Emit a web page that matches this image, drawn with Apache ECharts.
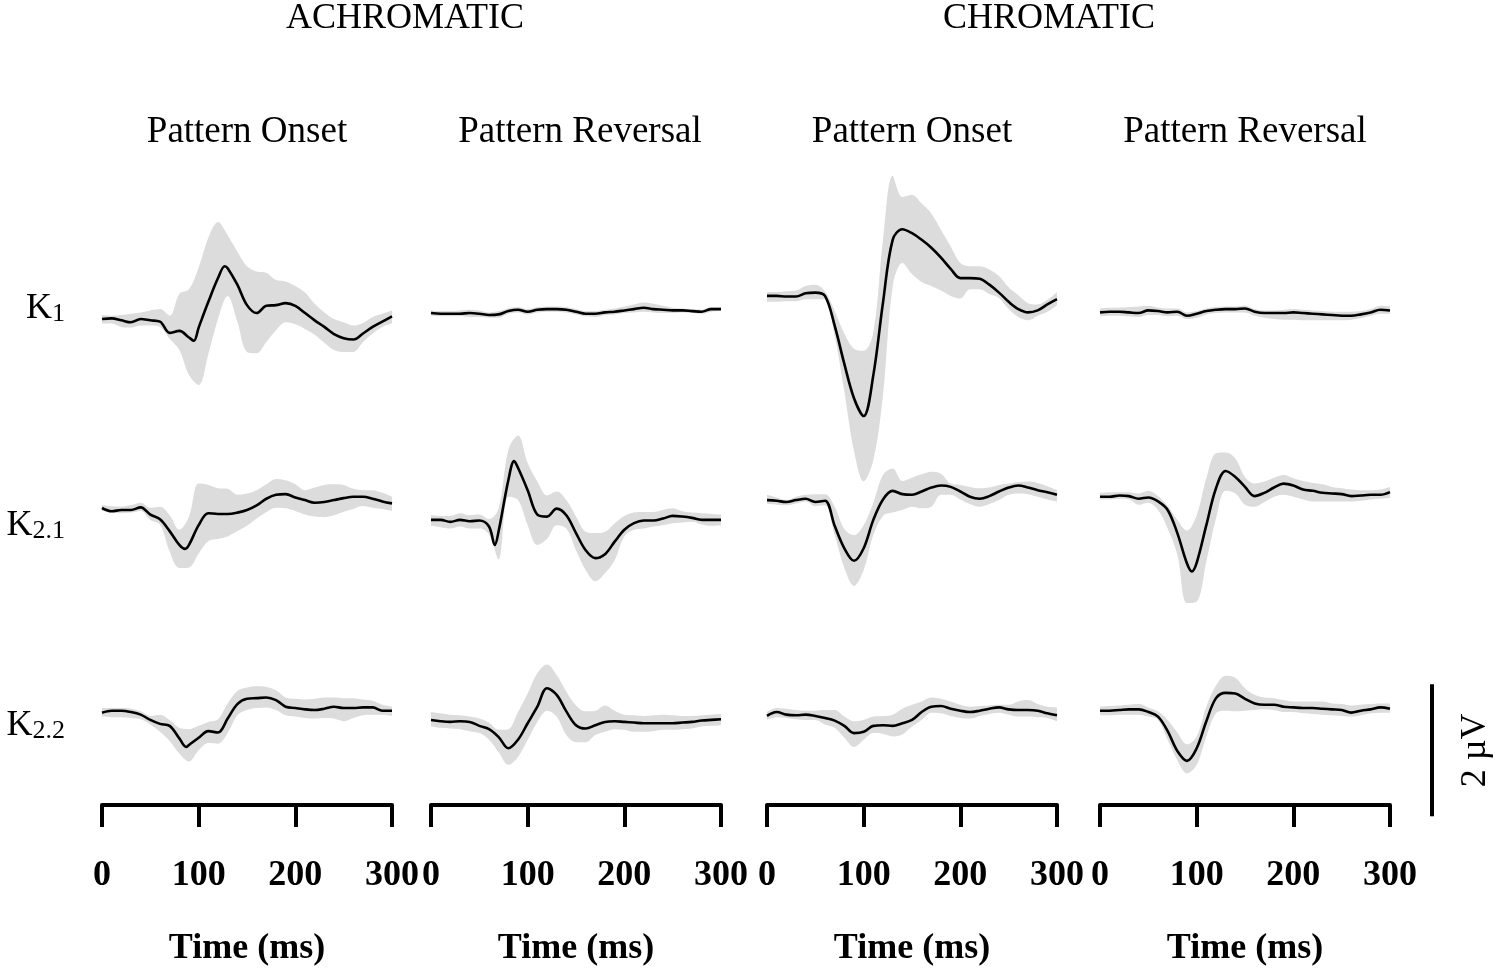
<!DOCTYPE html>
<html>
<head>
<meta charset="utf-8">
<script src="https://cdn.jsdelivr.net/npm/echarts@6/dist/echarts.min.js"></script>
<style>
  html, body { margin: 0; padding: 0; background: #fff; }
  #main { width: 1500px; height: 972px; }
</style>
</head>
<body>
<div id="main"></div>
<script>
// time samples (ms), shared by every panel
const times = [0, 10, 20, 30, 40, 50, 60, 70, 80, 90, 100, 110, 120, 130, 140, 150,
  160, 170, 180, 190, 200, 210, 220, 230, 240, 250, 260, 270, 280, 290, 300];
const timeTicks = [0, 100, 200, 300];

const groupNames = ['ACHROMATIC', 'CHROMATIC'];
const columnNames = ['Pattern Onset', 'Pattern Reversal', 'Pattern Onset', 'Pattern Reversal'];
const rowNames = [['K', '1'], ['K', '2.1'], ['K', '2.2']];

// ---- K1 (µV) ----
const achOnK1Mean = [0, 0.01, -0.02, -0.05, 0, -0.02, -0.04, -0.21, -0.18, -0.28, -0.13, 0.26, 0.62, 0.77, 0.52, 0.21, 0.09, 0.2, 0.21, 0.24, 0.2, 0.09, -0.02, -0.12, -0.23, -0.29, -0.31, -0.22, -0.12, -0.04, 0.04];
const achOnK1Hi = [0.06, 0.05, 0.06, 0.08, 0.1, 0.13, 0.15, 0.05, 0.38, 0.45, 0.78, 1.23, 1.47, 1.27, 1.02, 0.8, 0.72, 0.7, 0.59, 0.57, 0.5, 0.4, 0.23, 0.1, 0.0, -0.05, -0.1, -0.06, 0.03, 0.08, 0.13];
const achOnK1Lo = [-0.07, -0.07, -0.12, -0.13, -0.1, -0.1, -0.12, -0.3, -0.47, -0.85, -1.0, -0.53, 0.0, 0.35, -0.04, -0.5, -0.52, -0.35, -0.17, -0.05, -0.08, -0.15, -0.24, -0.36, -0.47, -0.5, -0.5, -0.35, -0.22, -0.12, -0.07];
const achOnK1Peaks = [[95, -0.33], [127, 0.8]];

const achRevK1Mean = [0.09, 0.08, 0.08, 0.08, 0.09, 0.08, 0.06, 0.07, 0.12, 0.14, 0.11, 0.14, 0.15, 0.15, 0.14, 0.11, 0.08, 0.08, 0.1, 0.11, 0.13, 0.15, 0.17, 0.15, 0.14, 0.13, 0.13, 0.12, 0.11, 0.15, 0.15];
const achRevK1Hi = [0.13, 0.12, 0.12, 0.13, 0.14, 0.13, 0.1, 0.12, 0.16, 0.18, 0.15, 0.18, 0.19, 0.19, 0.18, 0.15, 0.12, 0.12, 0.14, 0.16, 0.19, 0.22, 0.25, 0.23, 0.2, 0.17, 0.16, 0.15, 0.14, 0.18, 0.18];
const achRevK1Lo = [0.05, 0.04, 0.04, 0.04, 0.03, 0.03, 0.02, 0.02, 0.08, 0.1, 0.07, 0.1, 0.11, 0.11, 0.1, 0.07, 0.04, 0.03, 0.06, 0.07, 0.09, 0.1, 0.11, 0.1, 0.09, 0.09, 0.1, 0.09, 0.08, 0.11, 0.12];

const chrOnK1Mean = [0.35, 0.35, 0.34, 0.34, 0.39, 0.4, 0.35, -0.1, -0.68, -1.2, -1.47, -0.85, 0.25, 1.2, 1.36, 1.3, 1.2, 1.08, 0.93, 0.76, 0.62, 0.62, 0.61, 0.52, 0.4, 0.26, 0.15, 0.1, 0.13, 0.22, 0.3];
const chrOnK1Hi = [0.41, 0.41, 0.42, 0.43, 0.5, 0.52, 0.42, 0.12, -0.22, -0.45, -0.48, -0.2, 1.2, 2.17, 1.85, 1.88, 1.75, 1.6, 1.35, 1.1, 0.85, 0.8, 0.8, 0.75, 0.65, 0.48, 0.36, 0.24, 0.22, 0.29, 0.41];
const chrOnK1Lo = [0.26, 0.26, 0.27, 0.27, 0.3, 0.3, 0.3, -0.25, -1.1, -2.0, -2.46, -2.14, -1.15, 0.49, 0.85, 0.68, 0.56, 0.5, 0.43, 0.35, 0.31, 0.45, 0.45, 0.38, 0.32, 0.15, 0.03, -0.02, 0.05, 0.11, 0.21];

const chrRevK1Mean = [0.1, 0.11, 0.11, 0.1, 0.09, 0.13, 0.12, 0.1, 0.11, 0.05, 0.08, 0.12, 0.14, 0.15, 0.15, 0.16, 0.11, 0.09, 0.09, 0.09, 0.1, 0.09, 0.08, 0.07, 0.06, 0.05, 0.05, 0.07, 0.1, 0.14, 0.13];
const chrRevK1Hi = [0.16, 0.17, 0.17, 0.18, 0.19, 0.2, 0.17, 0.16, 0.16, 0.1, 0.12, 0.16, 0.18, 0.19, 0.19, 0.2, 0.15, 0.13, 0.13, 0.14, 0.15, 0.14, 0.13, 0.12, 0.11, 0.11, 0.11, 0.12, 0.15, 0.2, 0.19];
const chrRevK1Lo = [0.04, 0.05, 0.05, 0.04, 0.03, 0.06, 0.06, 0.04, 0.05, 0.0, 0.02, 0.07, 0.09, 0.1, 0.1, 0.1, 0.05, 0.02, 0.0, -0.01, -0.01, -0.02, -0.02, -0.02, -0.02, -0.02, -0.01, 0.01, 0.05, 0.08, 0.08];

// ---- K2.1 (µV) ----
const achOnK21Mean = [0, -0.05, -0.03, -0.03, 0.01, -0.1, -0.17, -0.35, -0.56, -0.56, -0.26, -0.08, -0.09, -0.09, -0.07, -0.03, 0.04, 0.14, 0.2, 0.21, 0.16, 0.12, 0.08, 0.09, 0.12, 0.15, 0.17, 0.17, 0.14, 0.1, 0.07];
const achOnK21Hi = [0.045, 0.025, 0.02, 0.045, 0.08, 0.005, 0.02, -0.11, -0.33, -0.13, 0.37, 0.35, 0.3, 0.29, 0.2, 0.22, 0.27, 0.36, 0.44, 0.42, 0.36, 0.27, 0.31, 0.35, 0.36, 0.35, 0.29, 0.27, 0.27, 0.23, 0.17];
const achOnK21Lo = [-0.045, -0.065, -0.08, -0.07, -0.045, -0.18, -0.25, -0.66, -0.91, -0.9, -0.69, -0.5, -0.47, -0.43, -0.35, -0.27, -0.16, -0.065, 0.005, -0.005, -0.045, -0.1, -0.13, -0.14, -0.11, -0.055, -0.015, 0.03, 0.005, -0.015, -0.045];
const achOnK21Peaks = [[86, -0.62]];

const achRevK21Mean = [-0.18, -0.18, -0.21, -0.18, -0.2, -0.19, -0.28, -0.35, 0.42, 0.61, 0.27, -0.1, -0.13, -0.01, -0.11, -0.38, -0.64, -0.76, -0.7, -0.51, -0.33, -0.23, -0.19, -0.19, -0.16, -0.12, -0.13, -0.15, -0.18, -0.18, -0.18];
const achRevK21Hi = [-0.11, -0.12, -0.12, -0.08, -0.11, -0.1, -0.17, -0.005, 0.88, 1.1, 0.68, 0.4, 0.19, 0.25, 0.12, -0.13, -0.36, -0.38, -0.36, -0.23, -0.12, -0.07, -0.06, -0.06, -0.03, -0.005, -0.05, -0.07, -0.08, -0.09, -0.1];
const achRevK21Lo = [-0.27, -0.29, -0.31, -0.28, -0.31, -0.31, -0.4, -0.78, 0.17, 0.12, -0.26, -0.56, -0.47, -0.26, -0.31, -0.64, -0.94, -1.11, -0.99, -0.79, -0.43, -0.33, -0.31, -0.28, -0.26, -0.23, -0.22, -0.21, -0.25, -0.27, -0.26];
const achRevK21Peaks = [[66, -0.56], [86, 0.71]];

const chrOnK21Mean = [0.12, 0.11, 0.09, 0.12, 0.14, 0.09, 0.11, -0.27, -0.61, -0.8, -0.61, -0.18, 0.13, 0.26, 0.21, 0.2, 0.25, 0.31, 0.34, 0.32, 0.25, 0.17, 0.14, 0.18, 0.25, 0.31, 0.34, 0.31, 0.27, 0.24, 0.2];
const chrOnK21Hi = [0.2, 0.16, 0.12, 0.17, 0.2, 0.21, 0.21, 0.02, -0.32, -0.41, -0.26, 0.08, 0.5, 0.6, 0.41, 0.46, 0.51, 0.55, 0.52, 0.37, 0.35, 0.32, 0.3, 0.31, 0.35, 0.37, 0.39, 0.4, 0.38, 0.33, 0.27];
const chrOnK21Lo = [0.06, 0.05, 0.04, 0.07, 0.1, 0.03, 0.04, -0.41, -0.91, -1.18, -0.94, -0.41, -0.12, -0.07, -0.03, 0.02, -0.005, 0.02, 0.2, 0.2, 0.13, 0.06, 0.02, 0.06, 0.12, 0.2, 0.22, 0.21, 0.17, 0.13, 0.1];

const chrRevK21Mean = [0.17, 0.17, 0.19, 0.18, 0.14, 0.16, 0.1, -0.03, -0.38, -0.84, -0.83, -0.26, 0.3, 0.56, 0.47, 0.32, 0.18, 0.23, 0.31, 0.37, 0.34, 0.28, 0.26, 0.23, 0.22, 0.21, 0.18, 0.19, 0.2, 0.2, 0.24];
const chrRevK21Hi = [0.23, 0.24, 0.24, 0.24, 0.22, 0.26, 0.18, 0.03, -0.18, -0.34, -0.11, 0.45, 0.83, 0.84, 0.75, 0.47, 0.37, 0.4, 0.46, 0.5, 0.45, 0.41, 0.38, 0.36, 0.32, 0.3, 0.28, 0.27, 0.27, 0.28, 0.32];
const chrRevK21Lo = [0.13, 0.13, 0.14, 0.13, 0.05, 0.08, -0.03, -0.31, -0.71, -1.44, -1.42, -0.81, -0.16, 0.26, 0.22, 0.05, 0.02, 0.09, 0.17, 0.2, 0.17, 0.13, 0.1, 0.1, 0.1, 0.1, 0.1, 0.11, 0.13, 0.14, 0.15];
const chrRevK21Peaks = [[95, -0.96]];

// ---- K2.2 (µV) ----
const achOnK22Mean = [-0.01, 0.02, 0.02, 0, -0.04, -0.12, -0.18, -0.21, -0.4, -0.5, -0.39, -0.29, -0.31, -0.1, 0.12, 0.2, 0.21, 0.22, 0.18, 0.08, 0.06, 0.04, 0.03, 0.05, 0.08, 0.06, 0.06, 0.07, 0.07, 0.02, 0.02];
const achOnK22Hi = [0.06, 0.06, 0.06, 0.05, 0.01, -0.06, -0.04, -0.12, -0.24, -0.26, -0.21, -0.15, -0.11, 0.13, 0.32, 0.37, 0.39, 0.38, 0.33, 0.22, 0.2, 0.19, 0.2, 0.22, 0.22, 0.21, 0.21, 0.19, 0.17, 0.11, 0.08];
const achOnK22Lo = [-0.07, -0.08, -0.08, -0.09, -0.11, -0.19, -0.3, -0.44, -0.63, -0.75, -0.58, -0.47, -0.48, -0.32, -0.05, 0.03, 0.06, 0.07, 0.03, -0.05, -0.07, -0.09, -0.1, -0.09, -0.1, -0.14, -0.09, -0.05, -0.04, -0.04, -0.06];
const achOnK22Peaks = [[87, -0.53]];

const achRevK22Mean = [-0.12, -0.14, -0.15, -0.14, -0.15, -0.21, -0.26, -0.38, -0.55, -0.42, -0.17, 0.08, 0.36, 0.26, 0.01, -0.2, -0.25, -0.2, -0.15, -0.14, -0.15, -0.16, -0.17, -0.17, -0.17, -0.17, -0.16, -0.15, -0.13, -0.12, -0.11];
const achRevK22Hi = [0, -0.02, -0.04, -0.05, -0.07, -0.1, -0.16, -0.27, -0.26, 0, 0.28, 0.59, 0.72, 0.56, 0.31, 0.1, 0.01, 0.02, 0.1, 0.02, -0.04, -0.05, -0.06, -0.05, -0.04, -0.05, -0.06, -0.06, -0.05, -0.04, -0.03];
const achRevK22Lo = [-0.22, -0.24, -0.25, -0.26, -0.29, -0.32, -0.42, -0.61, -0.8, -0.68, -0.42, -0.15, 0.02, -0.07, -0.35, -0.46, -0.46, -0.35, -0.3, -0.26, -0.27, -0.3, -0.3, -0.29, -0.27, -0.27, -0.26, -0.25, -0.22, -0.21, -0.2];

const chrOnK22Mean = [-0.06, 0, -0.04, -0.05, -0.04, -0.06, -0.09, -0.13, -0.21, -0.32, -0.3, -0.21, -0.2, -0.21, -0.17, -0.12, 0, 0.08, 0.09, 0.05, 0.02, 0, 0.02, 0.05, 0.07, 0.04, 0.03, 0.03, 0.02, -0.02, -0.05];
const chrOnK22Hi = [0, 0.06, 0.05, 0.03, 0.02, 0.02, 0.03, 0.03, -0.07, -0.14, -0.12, -0.07, -0.06, -0.04, 0.05, 0.11, 0.16, 0.22, 0.2, 0.16, 0.11, 0.08, 0.09, 0.1, 0.11, 0.11, 0.16, 0.18, 0.12, 0.08, 0.07];
const chrOnK22Lo = [-0.12, -0.08, -0.09, -0.11, -0.12, -0.12, -0.19, -0.24, -0.39, -0.53, -0.42, -0.32, -0.33, -0.37, -0.34, -0.22, -0.12, -0.01, -0.02, -0.06, -0.09, -0.1, -0.06, -0.03, -0.01, -0.04, -0.07, -0.07, -0.08, -0.09, -0.14];

const chrRevK22Mean = [0.02, 0.02, 0.03, 0.04, 0.04, 0, -0.07, -0.29, -0.59, -0.74, -0.55, -0.14, 0.21, 0.29, 0.28, 0.2, 0.13, 0.11, 0.11, 0.08, 0.07, 0.06, 0.06, 0.05, 0.04, 0.03, -0.01, 0.02, 0.04, 0.07, 0.05];
const chrRevK22Hi = [0.08, 0.09, 0.1, 0.11, 0.12, 0.07, 0.01, -0.12, -0.31, -0.49, -0.37, 0.08, 0.4, 0.55, 0.52, 0.36, 0.26, 0.22, 0.21, 0.18, 0.16, 0.16, 0.16, 0.16, 0.13, 0.12, 0.1, 0.11, 0.12, 0.13, 0.13];
const chrRevK22Lo = [-0.05, -0.05, -0.04, -0.04, -0.04, -0.07, -0.12, -0.42, -0.73, -0.93, -0.8, -0.37, -0.02, 0.02, 0.01, 0.02, 0.03, 0.04, 0.03, 0, 0, -0.02, -0.03, -0.04, -0.05, -0.06, -0.07, -0.05, -0.02, -0.01, -0.01];

// scale bar
const scaleBarUv = 2;
const scaleBarTopUv = 0.42;   // on the K2.2 row

// layout
const colLeft = [102, 431, 767, 1100];
const colWidth = 290;
const rowZero = [319, 508, 712];
const pxPerUv = 66;
const yHalf = 3;
const axisY = 805;
const serif = 'Liberation Serif, Times New Roman, serif';
const bandColor = '#dcdcdc';

const panels = [
  { row: 0, col: 0, mean: achOnK1Mean, hi: achOnK1Hi, lo: achOnK1Lo, peaks: achOnK1Peaks },
  { row: 0, col: 1, mean: achRevK1Mean, hi: achRevK1Hi, lo: achRevK1Lo },
  { row: 0, col: 2, mean: chrOnK1Mean, hi: chrOnK1Hi, lo: chrOnK1Lo },
  { row: 0, col: 3, mean: chrRevK1Mean, hi: chrRevK1Hi, lo: chrRevK1Lo },
  { row: 1, col: 0, mean: achOnK21Mean, hi: achOnK21Hi, lo: achOnK21Lo, peaks: achOnK21Peaks },
  { row: 1, col: 1, mean: achRevK21Mean, hi: achRevK21Hi, lo: achRevK21Lo, peaks: achRevK21Peaks },
  { row: 1, col: 2, mean: chrOnK21Mean, hi: chrOnK21Hi, lo: chrOnK21Lo },
  { row: 1, col: 3, mean: chrRevK21Mean, hi: chrRevK21Hi, lo: chrRevK21Lo, peaks: chrRevK21Peaks },
  { row: 2, col: 0, mean: achOnK22Mean, hi: achOnK22Hi, lo: achOnK22Lo, peaks: achOnK22Peaks },
  { row: 2, col: 1, mean: achRevK22Mean, hi: achRevK22Hi, lo: achRevK22Lo },
  { row: 2, col: 2, mean: chrOnK22Mean, hi: chrOnK22Hi, lo: chrOnK22Lo },
  { row: 2, col: 3, mean: chrRevK22Mean, hi: chrRevK22Hi, lo: chrRevK22Lo }
];

const grids = [], xAxes = [], yAxes = [], series = [];

panels.forEach(function (p, i) {
  grids.push({ left: colLeft[p.col], width: colWidth, top: rowZero[p.row] - yHalf * pxPerUv, height: 2 * yHalf * pxPerUv });
  yAxes.push({ gridIndex: i, type: 'value', min: -yHalf, max: yHalf, show: false });
  const bandX = xAxes.length;
  xAxes.push({ gridIndex: i, type: 'category', data: times, boundaryGap: false, show: false });
  const meanX = xAxes.length;
  xAxes.push({ gridIndex: i, type: 'value', min: times[0], max: times[times.length - 1], show: false });

  const common = { type: 'line', yAxisIndex: i, symbol: 'none', smooth: 0.35, silent: true, clip: false, animation: false };
  // band = lower edge + (upper - lower) stacked on it
  series.push(Object.assign({}, common, {
    xAxisIndex: bandX, stack: 'band' + i, stackStrategy: 'all', z: 1,
    lineStyle: { opacity: 0 },
    data: p.lo.slice()
  }));
  series.push(Object.assign({}, common, {
    xAxisIndex: bandX, stack: 'band' + i, stackStrategy: 'all', z: 1,
    lineStyle: { opacity: 0 },
    areaStyle: { color: bandColor, opacity: 1 },
    data: p.hi.map(function (v, k) { return +(v - p.lo[k]).toFixed(3); })
  }));
  // mean trace: the 10 ms samples plus the extremes read between them
  const pts = times.map(function (t, k) { return [t, p.mean[k]]; }).concat(p.peaks || []);
  pts.sort(function (a, b) { return a[0] - b[0]; });
  series.push(Object.assign({}, common, {
    xAxisIndex: meanX, z: 3,
    lineStyle: { color: '#000', width: 2.6 },
    data: pts
  }));
});

// time axes under each column
colLeft.forEach(function (left) {
  const gi = grids.length;
  grids.push({ left: left, width: colWidth, top: axisY - 100, height: 100 });
  xAxes.push({
    gridIndex: gi, type: 'value', min: timeTicks[0], max: timeTicks[timeTicks.length - 1], interval: 100,
    position: 'bottom',
    axisLine: { show: true, lineStyle: { color: '#000', width: 4 } },
    axisTick: { show: true, length: 22, lineStyle: { color: '#000', width: 4 } },
    axisLabel: { color: '#000', fontFamily: serif, fontWeight: 'bold', fontSize: 36, margin: 53 },
    splitLine: { show: false },
    name: 'Time (ms)', nameLocation: 'middle', nameGap: 126,
    nameTextStyle: { color: '#000', fontFamily: serif, fontWeight: 'bold', fontSize: 36 }
  });
  yAxes.push({ gridIndex: gi, type: 'value', show: false });
});

const graphics = [];
function addText(x, y, text, size) {
  graphics.push({
    type: 'text', x: x, y: y, silent: true, z: 100,
    style: { text: text, fill: '#000', font: size + 'px ' + serif, textAlign: 'center', textVerticalAlign: 'middle' }
  });
}
const groupCenters = [405, 1049];
const columnCenters = [247, 580, 912, 1245];
groupNames.forEach(function (name, g) { addText(groupCenters[g], 19, name, 36); });
columnNames.forEach(function (name, c) { addText(columnCenters[c], 132, name, 37); });

const rowLabelY = [309, 526, 726];
rowNames.forEach(function (parts, r) {
  graphics.push({
    type: 'text', x: 65, y: rowLabelY[r], silent: true, z: 100,
    style: {
      text: '{k|' + parts[0] + '}{n|' + parts[1] + '}',
      textAlign: 'right', textVerticalAlign: 'middle',
      rich: {
        k: { fontFamily: serif, fontSize: 36, fill: '#000', verticalAlign: 'bottom', lineHeight: 36 },
        n: { fontFamily: serif, fontSize: 26, fill: '#000', verticalAlign: 'bottom', lineHeight: 30 }
      }
    }
  });
});

// 2 µV scale bar
const barTop = rowZero[2] - scaleBarTopUv * pxPerUv;
const barBottom = barTop + scaleBarUv * pxPerUv;
graphics.push({
  type: 'line', silent: true, z: 100,
  shape: { x1: 1432, y1: barTop, x2: 1432, y2: barBottom },
  style: { stroke: '#000', lineWidth: 4 }
});
graphics.push({
  type: 'text', x: 1476, y: (barTop + barBottom) / 2, rotation: Math.PI / 2, silent: true, z: 100,
  style: { text: '2 µV', fill: '#000', font: '36px ' + serif, textAlign: 'center', textVerticalAlign: 'middle' }
});

const chart = echarts.init(document.getElementById('main'), null, { renderer: 'canvas' });
chart.setOption({
  backgroundColor: '#ffffff',
  animation: false,
  grid: grids,
  xAxis: xAxes,
  yAxis: yAxes,
  series: series,
  graphic: graphics
});
</script>
</body>
</html>
